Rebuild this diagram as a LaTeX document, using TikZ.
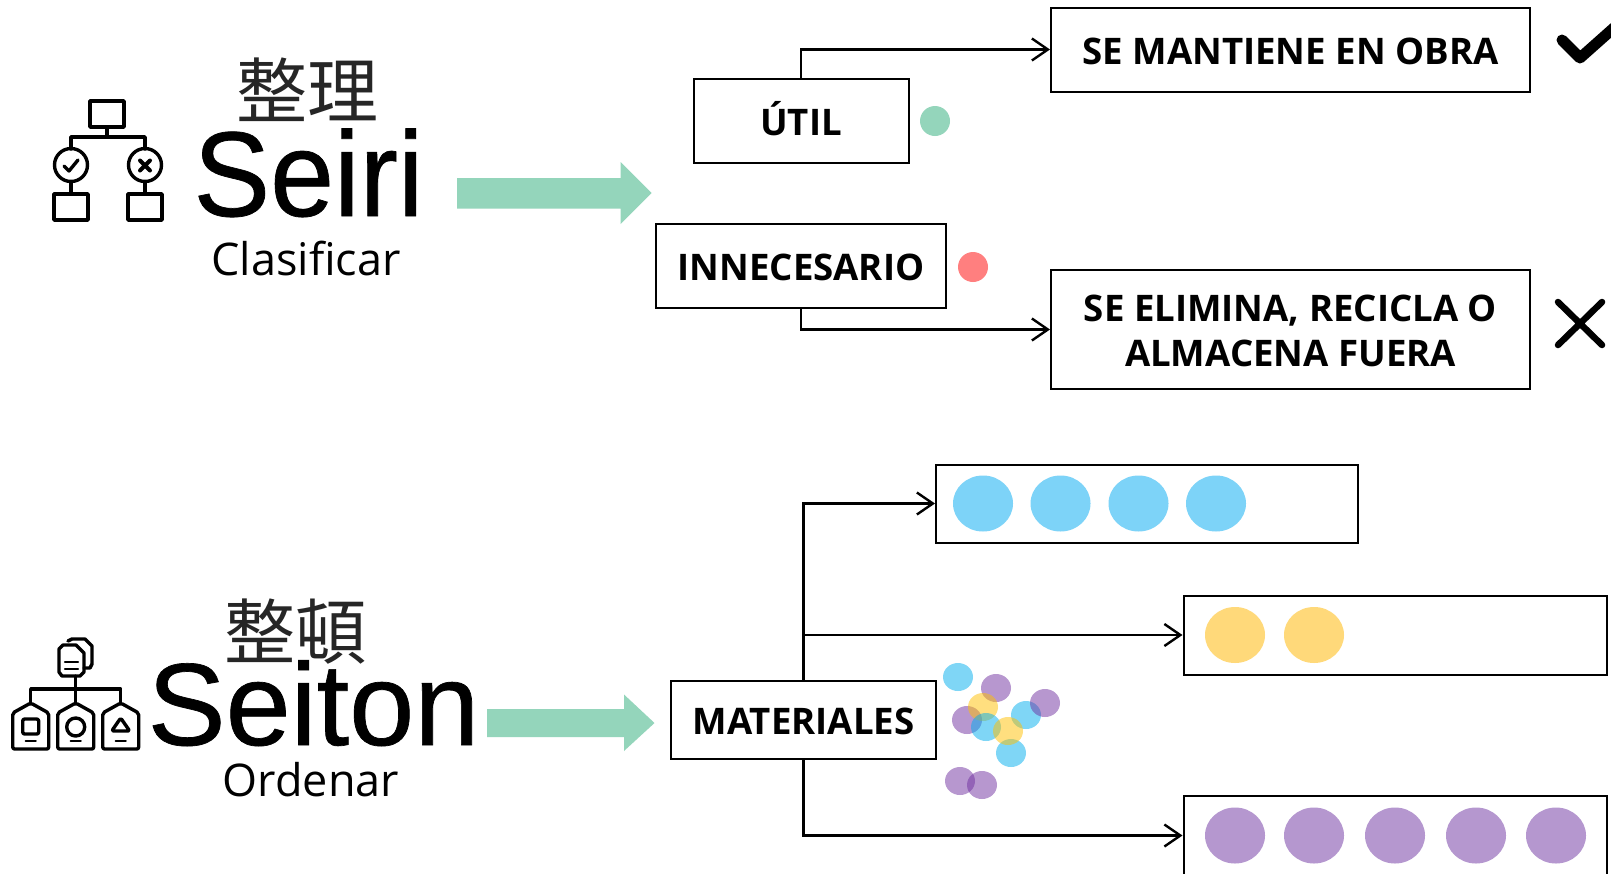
\documentclass[tikz,border=0pt]{standalone}
\usepackage{fontspec}
\usetikzlibrary{arrows.meta}
\setmainfont{Open Sans}
\newfontfamily\arialf[FakeBold=0.6]{Liberation Sans}
\newfontfamily\cjkf{Noto Sans CJK JP}
\definecolor{tealg}{HTML}{94D5BB}
\definecolor{redd}{HTML}{FF7F7F}
\definecolor{bluec}{HTML}{7DD3F8}
\definecolor{yelc}{HTML}{FFD97A}
\definecolor{purc}{HTML}{B597CF}
\definecolor{bluet}{HTML}{00AEEF}
\definecolor{yelt}{HTML}{FFC000}
\definecolor{purt}{HTML}{7030A0}
\tikzset{
  x=1pt,y=-1pt,
  lab/.style={draw=black,line width=2pt,fill=white,align=center,inner sep=0pt,text height=29pt,text depth=0pt,font=\fontsize{36.6}{45}\selectfont\bfseries},
  conn/.style={draw=black,line width=2.2pt,-{Straight Barb[length=16pt,width=22pt,line width=2.4pt]}},
  ico/.style={draw=black,line width=3.4pt,line join=round,line cap=round},
  bl/.style={fill=bluec,draw=none},
  ye/.style={fill=yelc,draw=none},
  pu/.style={fill=purc,draw=none},
  sbl/.style={fill=bluet,fill opacity=.5,draw=none},
  sye/.style={fill=yelt,fill opacity=.5,draw=none},
  spu/.style={fill=purt,fill opacity=.5,draw=none},
  blockarrow/.style={fill=tealg,draw=none},
  bigt/.style={anchor=base,inner sep=0pt},
  cjkt/.style={font=\cjkf\fontsize{71}{71}\selectfont,inner sep=0pt,text=black!85},
  subt/.style={font=\fontsize{45}{45}\selectfont,anchor=base,inner sep=0pt}
}
\begin{document}
\begin{tikzpicture}
\useasboundingbox (0,0) rectangle (1611,873);
\clip (0,0) rectangle (1611,873);
\fill[white] (0,0) rectangle (1611,873);
% boxes
\node[lab,minimum width=479pt,minimum height=84pt] (mant) at (1290.5,49.5) {SE MANTIENE EN OBRA};
\node[lab,minimum width=215pt,minimum height=84pt] (util) at (801,121) {ÚTIL};
\node[lab,minimum width=290pt,minimum height=84pt] (inne) at (801,266) {INNECESARIO};
\node[lab,text height=74pt,minimum width=479pt,minimum height=119pt] (elim) at (1290.5,329.5) {SE ELIMINA, RECICLA O\\ALMACENA FUERA};
\node[lab,minimum width=422pt,minimum height=78pt] (rowa) at (1147,503.5) {};
\node[lab,minimum width=423pt,minimum height=79pt] (rowb) at (1395,635) {};
\node[lab,minimum width=423pt,minimum height=79pt] (rowc) at (1395,835.5) {};
\node[lab,minimum width=265pt,minimum height=78pt] (mat) at (803.5,719.5) {MATERIALES};
% connectors
\draw[conn] (util.north) |- (mant.west);
\draw[conn] (inne.south) |- (elim.west);
\draw[conn] (mat.north) |- (rowa.west);
\draw[conn] (mat.north) |- (rowb.west);
\draw[conn] (mat.south) |- (rowc.west);
% dots
\fill[tealg] (935,121) circle[radius=15];
\fill[redd] (973,267) circle[radius=15];
% row ellipses
\foreach \cx in {983,1060.5,1138.5,1216}{\fill[bl] (\cx,503.5) ellipse[x radius=30,y radius=28];}
\foreach \cx in {1235,1314}{\fill[ye] (\cx,635) ellipse[x radius=30,y radius=28];}
\foreach \cx in {1235,1314,1395,1476,1556}{\fill[pu] (\cx,835.5) ellipse[x radius=30,y radius=28];}
% scatter
\fill[sbl] (958,677) ellipse[x radius=15,y radius=14];
\fill[spu] (996,688) ellipse[x radius=15,y radius=14];
\fill[spu] (967,720) ellipse[x radius=15,y radius=14];
\fill[sye] (983,707) ellipse[x radius=15,y radius=14];
\fill[sbl] (986,727) ellipse[x radius=15,y radius=14];
\fill[sbl] (1026,715) ellipse[x radius=15,y radius=14];
\fill[spu] (1045,703) ellipse[x radius=15,y radius=14];
\fill[sbl] (1011,753) ellipse[x radius=15,y radius=14];
\fill[sye] (1008,731) ellipse[x radius=15,y radius=14];
\fill[spu] (960,781) ellipse[x radius=15,y radius=14];
\fill[spu] (982,785) ellipse[x radius=15,y radius=14];
% block arrows
\fill[blockarrow] (457,178) -- (620.5,178) -- (620.5,162) -- (651.5,193) -- (620.5,224) -- (620.5,208.5) -- (457,208.5) -- cycle;
\fill[blockarrow] (487,709) -- (624,709) -- (624,694.5) -- (654.5,723) -- (624,751) -- (624,737) -- (487,737) -- cycle;
% check and cross
\draw[line width=11pt,line cap=round,line join=round] (1562,40) -- (1580,58) -- (1625,18);
\draw[line width=6.5pt,line cap=round] (1558,302) -- (1602,345) (1602,302) -- (1558,345);
% titles
\node[cjkt] (kseiri) at (307,90) {整理};
\node[bigt] (seiri) at (308.5,216) {\scalebox{1}[1.05]{\arialf\fontsize{115}{115}\selectfont Seiri}};
\node[subt] (clas) at (306,275) {Clasificar};
\node[cjkt] (kseiton) at (295,632) {整頓};
\node[bigt] (seiton) at (313.5,745) {\arialf\fontsize{117}{117}\selectfont Seiton};
\node[subt] (orde) at (311,796) {Ordenar};
% Seiri icon
\draw[ico] (90,101) rectangle (124,127);
\draw[ico] (107,127) -- (107,137) (71,149) -- (71,137) -- (145,137) -- (145,149);
\draw[ico] (71,165) circle[radius=16.5] (145,165) circle[radius=16.5];
\draw[ico] (71,181.5) -- (71,194) (145,181.5) -- (145,194);
\draw[ico] (54,194) rectangle (88,220) (128,194) rectangle (162,220);
\draw[ico] (64,166) -- (69,171) -- (78,160);
\draw[ico,line width=4pt] (140,160.5) -- (150,170.5) (150,160.5) -- (140,170.5);
% Seiton icon
\draw[ico] (76,645) -- (63,645) -- (59,649) -- (59,672) -- (62,676) -- (80,676) -- (84,672) -- (84,653) -- cycle;
\draw[ico] (68,641) -- (72,639) -- (85,639) -- (92,646) -- (92,664) -- (90,668) -- (84,668);
\draw[ico,line width=2.4pt] (65,662) -- (78,662) (65,669) -- (78,669);
\draw[ico] (75.7,676) -- (75.7,703) (30.7,703) -- (30.7,689) -- (120.7,689) -- (120.7,703);
\foreach \cx/\nm in {30.7/a,75.7/b,120.7/c}{
  \draw[ico,rounded corners=2pt] (\cx,703) -- (\cx+18,713) -- (\cx+18,749) -- (\cx-18,749) -- (\cx-18,713) -- cycle;
  \draw[ico,line width=2.4pt] (\cx-5,741) -- (\cx+5,741);
}
\draw[ico,rounded corners=2pt] (22.7,719) rectangle (38.7,734);
\draw[ico] (75.7,727) circle[radius=9];
\draw[ico,rounded corners=2pt] (120.7,718) -- (129.7,731) -- (111.7,731) -- cycle;
\end{tikzpicture}
\end{document}
